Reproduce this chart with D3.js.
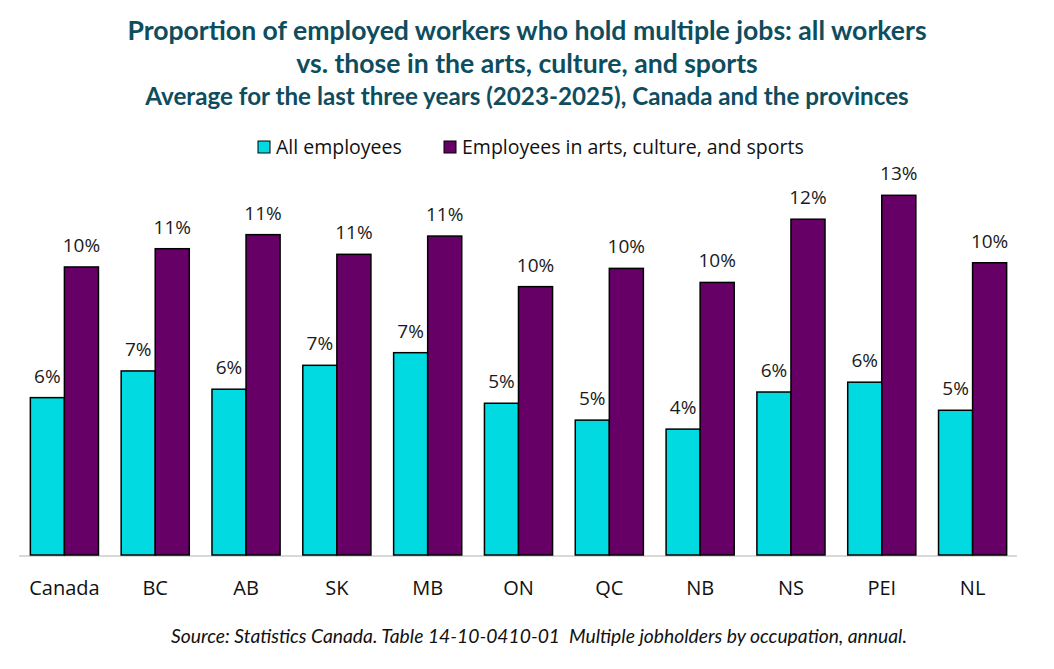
<!DOCTYPE html>
<html>
<head>
<meta charset="utf-8">
<script src="https://cdn.jsdelivr.net/npm/d3@7"></script>
<style>
  body { margin: 0; background: #fff; }
  svg { display: block; }
</style>
</head>
<body>
<div id="app"></div>
<script>
var categories = ['Canada', 'BC', 'AB', 'SK', 'MB', 'ON', 'QC', 'NB', 'NS', 'PEI', 'NL'];
var seriesNames = ['All employees', 'Employees in arts, culture, and sports'];
var allEmployees = [5.6, 6.55, 5.9, 6.75, 7.2, 5.4, 4.8, 4.48, 5.8, 6.15, 5.15];
var artsEmployees = [10.25, 10.9, 11.4, 10.7, 11.35, 9.55, 10.2, 9.7, 11.95, 12.8, 10.4];

var width = 1054,
    height = 669,
    baseY = 555,
    colors = ['#00DAE0', '#660066'],
    titleColor = '#0E4D5E';

var svg = d3.select('#app')
    .append('svg')
    .attr('width', width)
    .attr('height', height);

// titles
var titles = [
    { text: 'Proportion of employed workers who hold multiple jobs: all workers', y: 40, size: 26.6 },
    { text: 'vs. those in the arts, culture, and sports', y: 73, size: 26.6 },
    { text: 'Average for the last three years (2023-2025), Canada and the provinces', y: 105, size: 24.2 }
];
svg.selectAll('.title')
    .data(titles)
    .enter()
    .append('text')
    .attr('class', 'title')
    .attr('x', 527)
    .attr('y', d => d.y)
    .attr('text-anchor', 'middle')
    .style('font-family', 'Lato, sans-serif')
    .style('font-weight', 'bold')
    .style('font-size', d => d.size + 'px')
    .style('fill', titleColor)
    .text(d => d.text);

// scales
var x0 = d3.scaleBand()
    .domain(categories)
    .range([19, 1018])
    .paddingInner(0.25)
    .paddingOuter(0.125);

var x1 = d3.scaleBand()
    .domain([0, 1])
    .range([0, x0.bandwidth()]);

var y = d3.scaleLinear()
    .domain([0, 14])
    .range([baseY, baseY - 14 * 28.1]);

var rows = categories.map(function (c, i) {
    return { cat: c, values: [allEmployees[i], artsEmployees[i]] };
});

// axis line
svg.append('line')
    .attr('x1', 19)
    .attr('x2', 1017)
    .attr('y1', baseY + 1)
    .attr('y2', baseY + 1)
    .style('stroke', '#D9D9D9')
    .style('stroke-width', 2);

var groups = svg.selectAll('.grp')
    .data(rows)
    .enter()
    .append('g')
    .attr('class', 'grp')
    .attr('transform', d => 'translate(' + x0(d.cat) + ',0)');

groups.selectAll('rect')
    .data(d => d.values)
    .enter()
    .append('rect')
    .attr('x', (d, i) => x1(i))
    .attr('y', d => y(d))
    .attr('width', x1.bandwidth())
    .attr('height', d => baseY - y(d))
    .style('fill', (d, i) => colors[i])
    .style('stroke', '#000')
    .style('stroke-width', 1.5);

groups.selectAll('.lbl')
    .data(d => d.values)
    .enter()
    .append('text')
    .attr('class', 'lbl')
    .attr('x', (d, i) => x1(i) + x1.bandwidth() / 2)
    .attr('y', d => y(d) - 15)
    .attr('text-anchor', 'middle')
    .style('font-family', '"Open Sans", sans-serif')
    .style('font-size', '19px')
    .style('fill', '#1a1a1a')
    .text(d => Math.round(d) + '%');

// category labels
svg.selectAll('.cat')
    .data(categories)
    .enter()
    .append('text')
    .attr('class', 'cat')
    .attr('x', d => x0(d) + x0.bandwidth() / 2)
    .attr('y', 595)
    .attr('text-anchor', 'middle')
    .style('font-family', '"Open Sans", sans-serif')
    .style('font-size', '20px')
    .style('fill', '#111')
    .text(d => d);

// legend
var legendX = [258, 444];
var legend = svg.selectAll('.leg')
    .data(seriesNames)
    .enter()
    .append('g')
    .attr('class', 'leg')
    .attr('transform', (d, i) => 'translate(' + legendX[i] + ',141)');

legend.append('rect')
    .attr('width', 12)
    .attr('height', 12)
    .style('fill', (d, i) => colors[i])
    .style('stroke', '#000')
    .style('stroke-width', 1);

legend.append('text')
    .attr('x', 18)
    .attr('y', 13)
    .style('font-family', '"Open Sans", sans-serif')
    .style('font-size', '19.5px')
    .style('fill', '#111')
    .text(d => d);

// source
svg.append('text')
    .attr('x', 539)
    .attr('y', 643)
    .attr('text-anchor', 'middle')
    .style('white-space', 'pre')
    .style('font-family', 'Lato, sans-serif')
    .style('font-style', 'italic')
    .style('font-size', '19.3px')
    .style('fill', '#111')
    .text('Source: Statistics Canada. Table 14-10-0410-01  Multiple jobholders by occupation, annual.');
</script>
</body>
</html>
